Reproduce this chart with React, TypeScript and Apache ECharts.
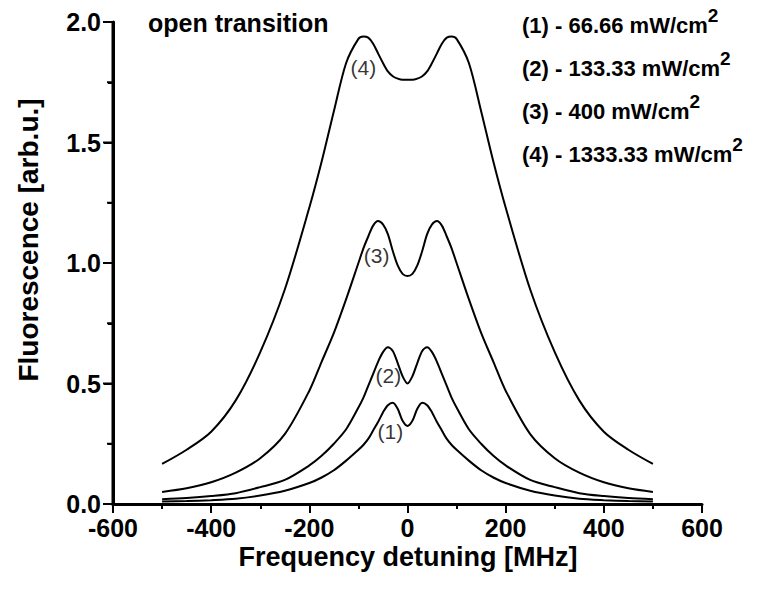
import React, { useEffect, useRef } from "react";
import * as echarts from "echarts";

// Frequency detuning [MHz]
const detuning = [
  -500, -450, -400, -350, -300, -250, -200, -175, -150, -125, -100, -90, -80, -70, -60, -50, -40, -30, -20, -10, 0,
  10, 20, 30, 40, 50, 60, 70, 80, 90, 100, 125, 150, 175, 200, 250, 300, 350, 400, 450, 500,
];

// (1) 66.66 mW/cm2
const curve1 = [
  0.01, 0.012, 0.016, 0.022, 0.035, 0.055, 0.087, 0.11, 0.14, 0.18, 0.225, 0.245, 0.27, 0.305, 0.34, 0.38, 0.41, 0.42, 0.395, 0.345, 0.324,
  0.345, 0.395, 0.42, 0.41, 0.38, 0.34, 0.305, 0.27, 0.245, 0.225, 0.18, 0.14, 0.11, 0.087, 0.055, 0.035, 0.022, 0.016, 0.012, 0.01,
];
// (2) 133.33 mW/cm2
const curve2 = [
  0.02, 0.025, 0.033, 0.045, 0.07, 0.1, 0.16, 0.2, 0.25, 0.31, 0.4, 0.44, 0.49, 0.54, 0.59, 0.63, 0.65, 0.635, 0.585, 0.53, 0.5,
  0.53, 0.585, 0.635, 0.65, 0.63, 0.59, 0.54, 0.49, 0.44, 0.4, 0.31, 0.25, 0.2, 0.16, 0.1, 0.07, 0.045, 0.033, 0.025, 0.02,
];
// (3) 400 mW/cm2
const curve3 = [
  0.05, 0.065, 0.09, 0.13, 0.19, 0.29, 0.47, 0.59, 0.71, 0.85, 1.0, 1.06, 1.11, 1.155, 1.174, 1.16, 1.12, 1.05, 0.99, 0.955, 0.946,
  0.955, 0.99, 1.05, 1.12, 1.16, 1.174, 1.155, 1.11, 1.06, 1.0, 0.85, 0.71, 0.59, 0.47, 0.29, 0.19, 0.13, 0.09, 0.065, 0.05,
];
// (4) 1333.33 mW/cm2
const curve4 = [
  0.166, 0.225, 0.3, 0.43, 0.63, 0.89, 1.23, 1.42, 1.63, 1.83, 1.93, 1.94, 1.935, 1.91, 1.87, 1.83, 1.795, 1.775, 1.765, 1.76, 1.76,
  1.76, 1.765, 1.775, 1.795, 1.83, 1.87, 1.91, 1.935, 1.94, 1.93, 1.83, 1.63, 1.42, 1.23, 0.89, 0.63, 0.43, 0.3, 0.225, 0.166,
];

const curveLabels = ["(1)", "(2)", "(3)", "(4)"];
const curveLabelPos = [
  [-35, 0.3],
  [-39, 0.535],
  [-63, 1.03],
  [-90, 1.81],
];
const legendNumbers = ["(1) - 66.66 mW/cm", "(2) - 133.33 mW/cm", "(3) - 400 mW/cm", "(4) - 1333.33 mW/cm"];

const yMajorTicks = [0, 0.5, 1.0, 1.5, 2.0];
const yMinorTicks = [0.25, 0.75, 1.25, 1.75];

const xTitle = "Frequency detuning [MHz]";
const yTitle = "Fluorescence [arb.u.]";
const note = "open transition";

const FONT = "'Liberation Sans', Arial, sans-serif";

export default function App() {
  const ref = useRef<HTMLDivElement>(null);
  useEffect(() => {
    if (!ref.current) return;
    const chart = echarts.init(ref.current, undefined, { renderer: "svg" });
    const curves = [curve1, curve2, curve3, curve4];
    const series: any[] = curves.map((c, i) => ({
      type: "line",
      name: curveLabels[i],
      data: detuning.map((x, j) => [x, c[j]]),
      showSymbol: false,
      smooth: 0.3,
      lineStyle: { color: "#000", width: 2 },
      itemStyle: { color: "#000" },
      z: 3,
    }));
    series.push({
      type: "scatter",
      data: curveLabelPos.map((p, i) => [p[0], p[1], curveLabels[i]]),
      symbolSize: 0,
      itemStyle: { color: "#000" },
      label: {
        show: true,
        position: "inside",
        formatter: (p: any) => p.data[2],
        fontFamily: FONT,
        fontSize: 21,
        color: "#000",
        textBorderWidth: 0,
      },
      z: 4,
    });
    // left axis line and its ticks, placed through the axis scales
    series.push({
      type: "custom",
      silent: true,
      clip: false,
      z: 20,
      data: [[-600, 0]],
      renderItem: (params: any, api: any) => {
        const base = api.coord([-600, 0]);
        const topPt = api.coord([-600, 2]);
        const x0 = base[0];
        const children: any[] = [
          {
            type: "line",
            shape: { x1: x0, y1: topPt[1], x2: x0, y2: base[1] + 1.5 },
            style: { stroke: "#000", lineWidth: 3 },
          },
        ];
        yMajorTicks.forEach((v) => {
          const y = api.coord([-600, v])[1];
          children.push({ type: "line", shape: { x1: x0 - 10, y1: y, x2: x0, y2: y }, style: { stroke: "#000", lineWidth: 2 } });
        });
        yMinorTicks.forEach((v) => {
          const y = api.coord([-600, v])[1];
          children.push({ type: "line", shape: { x1: x0 - 6, y1: y, x2: x0, y2: y }, style: { stroke: "#000", lineWidth: 2 } });
        });
        return { type: "group", children };
      },
    });

    const legendTexts: any[] = legendNumbers.map((t, i) => ({
      type: "text",
      left: 522,
      top: 6 + i * 43,
      style: {
        text: `{a|${t}}{s|2}`,
        rich: {
          a: { fontFamily: FONT, fontWeight: "bold", fontSize: 22, lineHeight: 30, fill: "#000", verticalAlign: "bottom" },
          s: { fontFamily: FONT, fontWeight: "bold", fontSize: 19, lineHeight: 19, fill: "#000", verticalAlign: "top" },
        },
      },
    }));

    chart.setOption({
      animation: false,
      backgroundColor: "#fff",
      grid: { left: 113, right: 58, top: 22, bottom: 89 },
      xAxis: {
        type: "value",
        min: -600,
        max: 600,
        interval: 200,
        axisLine: { onZero: false, lineStyle: { color: "#000", width: 3 } },
        axisTick: { length: 9, lineStyle: { color: "#000", width: 2 } },
        minorTick: { show: true, splitNumber: 2, length: 5, lineStyle: { color: "#000", width: 2 } },
        splitLine: { show: false },
        axisLabel: { fontFamily: FONT, fontWeight: "bold", fontSize: 25, color: "#000", margin: 11 },
      },
      yAxis: {
        type: "value",
        min: 0,
        max: 2,
        interval: 0.5,
        axisLine: { show: true, onZero: false, lineStyle: { color: "#000", width: 3 } },
        axisTick: { show: true, length: 9, lineStyle: { color: "#000", width: 2 } },
        minorTick: { show: true, splitNumber: 2, length: 5, lineStyle: { color: "#000", width: 2 } },
        splitLine: { show: false },
        axisLabel: {
          fontFamily: FONT,
          fontWeight: "bold",
          fontSize: 25,
          color: "#000",
          margin: 12,
          formatter: (v: number) => v.toFixed(1),
        },
      },
      graphic: [
        {
          type: "text",
          x: 408,
          y: 557,
          style: {
            text: xTitle,
            fontFamily: FONT,
            fontWeight: "bold",
            fontSize: 27,
            fill: "#000",
            align: "center",
            verticalAlign: "middle",
          },
        },
        {
          type: "text",
          x: 28,
          y: 240,
          rotation: Math.PI / 2,
          style: {
            text: yTitle,
            fontFamily: FONT,
            fontWeight: "bold",
            fontSize: 28,
            fill: "#000",
            align: "center",
            verticalAlign: "middle",
          },
        },
        {
          type: "text",
          left: 148,
          top: 10,
          style: { text: note, fontFamily: FONT, fontWeight: "bold", fontSize: 25, fill: "#000" },
        },
        ...legendTexts,
      ],
      series,
    });
    return () => chart.dispose();
  }, []);
  return <div ref={ref} style={{ width: 760, height: 593, position: "absolute", left: 0, top: 0 }} />;
}
